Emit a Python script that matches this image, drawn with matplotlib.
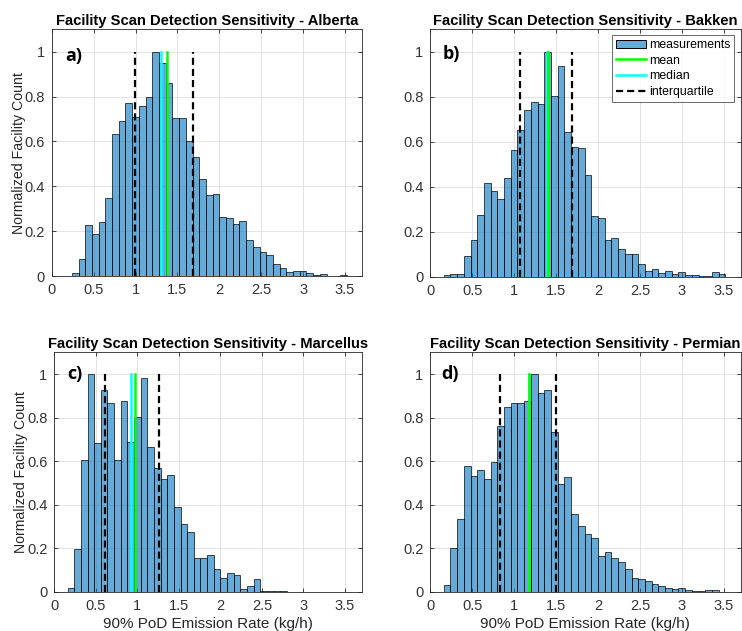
import numpy as np
import matplotlib
matplotlib.use("Agg")
import matplotlib.pyplot as plt
from matplotlib.ticker import FuncFormatter, MultipleLocator
from matplotlib.patches import Patch
from matplotlib.lines import Line2D

plt.rcParams['font.family'] = ['Liberation Sans', 'DejaVu Sans']

BIN_WIDTH = 0.08  # kg/h

regions = ["Alberta", "Bakken", "Marcellus", "Permian"]
panel_tags = ["a)", "b)", "c)", "d)"]

# Normalized facility counts per 0.08 kg/h bin, starting at the given left edge
alberta_first_bin = 0.24
alberta_counts = [0.012, 0.076, 0.228, 0.186, 0.243, 0.346, 0.635, 0.689, 0.772, 0.709,
                  0.760, 0.800, 1.000, 0.951, 0.861, 0.705, 0.705, 0.604, 0.529, 0.434,
                  0.362, 0.365, 0.262, 0.258, 0.231, 0.247, 0.161, 0.128, 0.109, 0.094,
                  0.055, 0.037, 0.019, 0.022, 0.022, 0.015, 0.003, 0.010, 0.002, 0.001,
                  0.004]

bakken_first_bin = 0.16
bakken_counts = [0.007, 0.013, 0.013, 0.090, 0.163, 0.275, 0.416, 0.383, 0.345, 0.438,
                 0.562, 0.652, 0.741, 0.776, 0.770, 1.000, 0.804, 0.939, 0.643, 0.577,
                 0.572, 0.450, 0.272, 0.260, 0.163, 0.171, 0.123, 0.101, 0.101, 0.058,
                 0.025, 0.033, 0.015, 0.027, 0.012, 0.019, 0.007, 0.007, 0.004, 0.002,
                 0.021, 0.013]

marcellus_first_bin = 0.16
marcellus_counts = [0.018, 0.198, 0.603, 1.000, 0.683, 0.928, 0.867, 0.607, 0.877, 0.687,
                    0.805, 0.982, 0.666, 0.569, 0.517, 0.535, 0.390, 0.311, 0.273, 0.153,
                    0.153, 0.170, 0.103, 0.064, 0.084, 0.075, 0.011, 0.028, 0.057, 0.005,
                    0.001, 0.004, 0.004]

permian_first_bin = 0.16
permian_counts = [0.029, 0.202, 0.333, 0.578, 0.531, 0.558, 0.517, 0.595, 0.761, 0.848,
                  0.865, 0.868, 0.874, 1.000, 0.911, 0.926, 0.736, 0.494, 0.525, 0.356,
                  0.304, 0.267, 0.248, 0.163, 0.181, 0.156, 0.135, 0.103, 0.064, 0.058,
                  0.051, 0.035, 0.026, 0.018, 0.014, 0.015, 0.009, 0.005, 0.005, 0.009,
                  0.009]

# Summary statistics (kg/h)
means = [1.37, 1.40, 0.97, 1.18]
medians = [1.31, 1.39, 0.92, 1.175]
lower_quartiles = [0.99, 1.075, 0.615, 0.83]
upper_quartiles = [1.68, 1.69, 1.255, 1.495]

first_bins = [alberta_first_bin, bakken_first_bin, marcellus_first_bin, permian_first_bin]
counts = [alberta_counts, bakken_counts, marcellus_counts, permian_counts]

W, H = 742, 631
fig = plt.figure(figsize=(W / 100, H / 100), dpi=100)

# axes boxes in pixels: left, top, right, bottom
boxes = [(51.7, 29.3, 361.8, 276.0),
         (430.3, 29.3, 740.5, 276.7),
         (54.3, 352.3, 361.6, 591.7),
         (430.3, 352.3, 740.5, 591.7)]
# panel tag anchor (left, top) in pixels
tag_xy = [(65.5, 46.5), (442.5, 45.5), (67.5, 364.5), (441.5, 364.5)]

bar_face = (0.0, 0.447, 0.741, 0.6)
bar_edge = (0.0, 0.0, 0.0, 0.7)
fmt = FuncFormatter(lambda v, p: f"{v:g}")

for i, region in enumerate(regions):
    l, t, r, b = boxes[i]
    ax = fig.add_axes([l / W, 1 - b / H, (r - l) / W, (b - t) / H])
    vals = np.asarray(counts[i])
    lefts = first_bins[i] + BIN_WIDTH * np.arange(len(vals))
    ax.bar(lefts, vals, width=BIN_WIDTH, align='edge', color=bar_face,
           edgecolor=bar_edge, linewidth=0.7, zorder=2)
    ax.plot([medians[i]] * 2, [0, 1], color='#00ffff', lw=1.8, zorder=3)
    ax.plot([means[i]] * 2, [0, 1], color='#00ff00', lw=1.8, zorder=3)
    for q in (lower_quartiles[i], upper_quartiles[i]):
        ax.plot([q, q], [0, 1], color='black', lw=1.6, ls=(0, (3.2, 1.8)), zorder=4)

    ax.set_xlim(0, 3.7)
    ax.set_ylim(0, 1.1)
    ax.xaxis.set_major_locator(MultipleLocator(0.5))
    ax.yaxis.set_major_locator(MultipleLocator(0.2))
    ax.xaxis.set_major_formatter(fmt)
    ax.yaxis.set_major_formatter(fmt)
    ax.set_axisbelow(True)
    ax.grid(True, color='#e3e3e3', lw=0.7)
    ax.tick_params(direction='in', top=True, right=True, length=3, width=0.6,
                   color='#262626', labelcolor='#333333', labelsize=10.5, pad=5)
    for s in ax.spines.values():
        s.set_color('#262626')
        s.set_linewidth(0.6)

    ax.set_title(f"Facility Scan Detection Sensitivity - {region}",
                 fontsize=10.6, fontweight='bold', pad=3)
    if i % 2 == 0:
        ax.set_ylabel("Normalized Facility Count", fontsize=10.2, color='#262626', labelpad=-1)
    if i >= 2:
        ax.set_xlabel("90% PoD Emission Rate (kg/h)", fontsize=11, color='#262626', labelpad=3)

    tx, ty = tag_xy[i]
    fig.text(tx / W, 1 - ty / H, panel_tags[i], fontsize=13, fontweight='bold',
             family=['Open Sans', 'DejaVu Sans'], ha='left', va='top')

    if i == 1:
        handles = [Patch(facecolor=bar_face, edgecolor='black', linewidth=0.7),
                   Line2D([], [], color='#00ff00', lw=1.8),
                   Line2D([], [], color='#00ffff', lw=1.8),
                   Line2D([], [], color='black', lw=1.6, ls=(0, (3.2, 1.8)))]
        leg = ax.legend(handles, ["measurements", "mean", "median", "interquartile"],
                        loc='upper right', fontsize=8.8, frameon=True, fancybox=False,
                        handlelength=2.5, handletextpad=0.25, labelspacing=0.3,
                        borderpad=0.3, borderaxespad=0.5)
        leg.get_frame().set_edgecolor('#262626')
        leg.get_frame().set_linewidth(0.6)

fig.savefig("out.png", dpi=100)
